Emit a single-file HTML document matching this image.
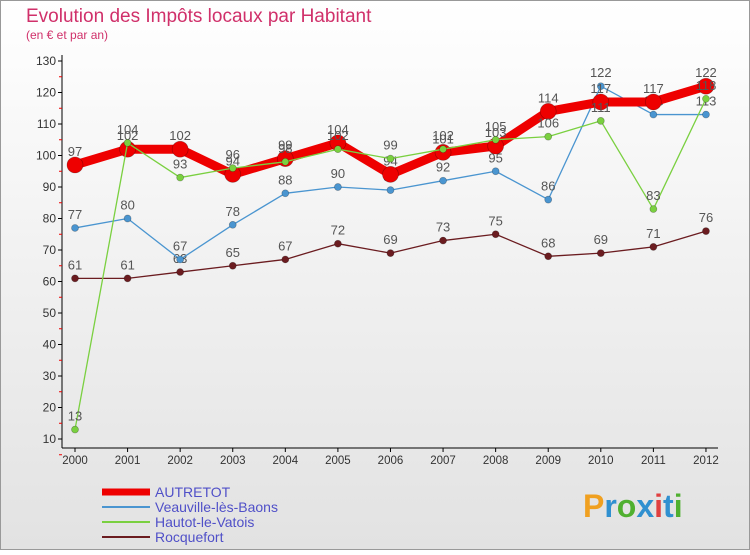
<!DOCTYPE html>
<html><head><meta charset="utf-8"><style>
body{margin:0;width:750px;height:550px;overflow:hidden;font-family:"Liberation Sans",sans-serif}
</style></head><body>
<svg width="750" height="550" id="svg">
<defs><linearGradient id="bg" x1="0" y1="0" x2="0" y2="1"><stop offset="0" stop-color="#ffffff"/><stop offset="1" stop-color="#e2e2e2"/></linearGradient></defs>
<rect x="0.5" y="0.5" width="749" height="549" fill="url(#bg)" stroke="#999"/>
<text x="26" y="22" font-size="19" fill="#d0306a" font-weight="normal">Evolution des Impôts locaux par Habitant</text>
<text x="26" y="39" font-size="12" fill="#d0306a">(en € et par an)</text>
<g id="axes"></g><g id="series"></g><g id="legend"></g>
<text x="583" y="517" font-size="32" font-weight="bold"><tspan fill="#f0a020">P</tspan><tspan fill="#3090d0">r</tspan><tspan fill="#50b030">o</tspan><tspan fill="#3090d0">x</tspan><tspan fill="#e04040">i</tspan><tspan fill="#3090d0">t</tspan><tspan fill="#50b030">i</tspan></text>
</svg>
<script>
const years=["2000","2001","2002","2003","2004","2005","2006","2007","2008","2009","2010","2011","2012"];
const yTicks=[10,20,30,40,50,60,70,80,90,100,110,120,130];
const autretot=[97,102,102,94,99,104,94,101,103,114,117,117,122];
const veauville=[77,80,67,78,88,90,89,92,95,86,122,113,113];
const hautot=[13,104,93,96,98,102,99,102,105,106,111,83,118];
const rocquefort=[61,61,63,65,67,72,69,73,75,68,69,71,76];
const NS="http://www.w3.org/2000/svg";
const X=i=>75+i*52.58, Y=v=>61+(130-v)*3.15;
function mk(t,a,p){const e=document.createElementNS(NS,t);for(const k in a)e.setAttribute(k,a[k]);p.appendChild(e);return e;}
const ax=document.getElementById('axes');
let l=mk('line',{x1:62,y1:55,x2:62,y2:448,stroke:'#000'},ax);


l=mk('line',{x1:62,y1:448,x2:718,y2:448,stroke:'#000'},ax);


yTicks.forEach(v=>{const y=Y(v);
 mk('line',{x1:58,y1:y,x2:62,y2:y,stroke:'#000'},ax);
 mk('line',{x1:59,y1:y+15.75,x2:62,y2:y+15.75,stroke:'#e00'},ax);
 const t=mk('text',{x:56,y:y+4,'font-size':12,'text-anchor':'end',fill:'#333'},ax);t.textContent=v;
 
 
});
years.forEach((yr,i)=>{mk('line',{x1:X(i),y1:448,x2:X(i),y2:452,stroke:'#000'},ax);
 const t=mk('text',{x:X(i),y:464,'font-size':11.5,'text-anchor':'middle',fill:'#333'},ax);t.textContent=yr;
 
 
});
const sg=document.getElementById('series');
function series(d,col,w,r,name){
 const g=mk('g',{},sg);
 
 
 mk('polyline',{points:d.map((v,i)=>X(i)+','+Y(v)).join(' '),fill:'none',stroke:col,'stroke-width':w,'stroke-linejoin':'round'},g);
 d.forEach((v,i)=>{const c=mk('circle',{cx:X(i),cy:Y(v),r:r,fill:col,stroke:'rgba(0,0,0,0.3)','stroke-width':0.7},g);
  
  
  const t=mk('text',{x:X(i),y:Y(v)-9,'font-size':13,'text-anchor':'middle',fill:'#555'},g);t.textContent=v;
  
  
 });
}
series(rocquefort,'#6b1c20',1.3,3.5,'series-rocquefort');
series(veauville,'#4a95d0',1.3,3.5,'series-veauville');
series(autretot,'#ee0000',9,8,'series-autretot');
series(hautot,'#7ad040',1.3,3.5,'series-hautot');
const lg=document.getElementById('legend');
[['AUTRETOT','#ee0000',7],['Veauville-lès-Baons','#4a95d0',2],['Hautot-le-Vatois','#7ad040',2],['Rocquefort','#6b1c20',2]].forEach((s,i)=>{
 const y=492+i*15;
 const g=mk('g',{},lg);
 
 
 mk('line',{x1:102,y1:y,x2:150,y2:y,stroke:s[1],'stroke-width':s[2]},g);
 const t=mk('text',{x:155,y:y+5,'font-size':14,fill:'#5050c8'},g);t.textContent=s[0];
});
</script>
</body></html>
